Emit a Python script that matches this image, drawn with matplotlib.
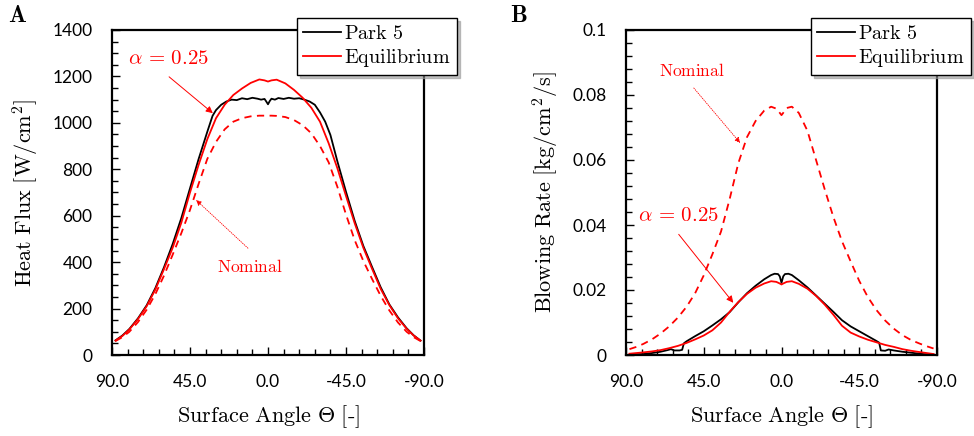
import numpy as np
import matplotlib
matplotlib.use("Agg")
import matplotlib.pyplot as plt
from matplotlib.ticker import MultipleLocator

plt.rcParams['mathtext.fontset'] = 'cm'
plt.rcParams['axes.unicode_minus'] = False

# ---------------- data: panel A (heat flux, W/cm2) ----------------
theta_a = [88, 84, 80, 75, 70, 65, 60, 55, 50, 45, 40, 35, 30, 25, 20, 15, 10, 5, 2, 0,
           -2, -5, -10, -15, -20, -25, -30, -35, -40, -45, -50, -55, -60, -65, -70, -75, -80, -84, -88]
equil_a = [62, 82, 110, 155, 210, 282, 370, 462, 570, 700, 820, 930, 1020, 1078, 1120, 1148, 1172, 1187, 1183, 1178,
           1183, 1186, 1170, 1142, 1108, 1065, 1005, 912, 805, 685, 568, 462, 372, 285, 215, 158, 113, 84, 62]
nominal_a = [60, 77, 100, 142, 195, 262, 342, 432, 525, 625, 738, 845, 918, 972, 1005, 1020, 1028, 1031, 1031, 1031,
             1031, 1030, 1025, 1012, 990, 955, 900, 830, 725, 605, 495, 405, 328, 255, 192, 140, 100, 77, 60]

theta_park_a = [88, 84, 80, 75, 70, 65, 60, 55, 50, 45, 40, 35, 32, 30, 27, 24, 21, 18, 15, 12,
                9, 6, 4, 2, 1, 0, -1, -2, -4, -6, -9, -12, -15, -18, -21, -24, -27, -30, -33, -36,
                -40, -45, -50, -55, -60, -65, -70, -75, -80, -84, -88]
park_a = [63, 84, 112, 158, 214, 288, 378, 478, 590, 718, 845, 962, 1030, 1055, 1078, 1092, 1100, 1098, 1106, 1102,
          1108, 1104, 1100, 1103, 1092, 1080, 1094, 1104, 1100, 1107, 1103, 1108, 1104, 1106, 1100, 1092, 1078, 1045, 1005, 948,
          835, 703, 578, 470, 380, 292, 218, 162, 115, 85, 62]

# ---------------- data: panel B (blowing rate, kg/cm2/s) ----------------
theta_b = [88, 84, 80, 75, 70, 65, 60, 55, 50, 45, 40, 35, 30, 25, 20, 15, 10, 6, 3, 1, 0,
           -1, -3, -6, -10, -15, -20, -25, -30, -35, -40, -45, -50, -55, -60, -65, -70, -75, -80, -84, -88]
nominal_b = [0.0018, 0.0025, 0.0034, 0.0048, 0.0066, 0.0088, 0.0115, 0.0148, 0.0190, 0.0245,
             0.0310, 0.0380, 0.0480, 0.0590, 0.0670, 0.0720, 0.0752, 0.0764, 0.0758, 0.0745, 0.0738,
             0.0745, 0.0760, 0.0764, 0.0745, 0.0690, 0.0600, 0.0510, 0.0425, 0.0350, 0.0288,
             0.0228, 0.0178, 0.0138, 0.0106, 0.0081, 0.0061, 0.0046, 0.0035, 0.0027, 0.0020]
equil_b = [0.0004, 0.0006, 0.0008, 0.0011, 0.0015, 0.0021, 0.0028, 0.0037, 0.0048, 0.0060,
           0.0076, 0.0100, 0.0133, 0.0163, 0.0188, 0.0207, 0.0220, 0.0227, 0.0225, 0.0220, 0.0217,
           0.0220, 0.0225, 0.0227, 0.0219, 0.0204, 0.0182, 0.0155, 0.0124, 0.0090, 0.0069,
           0.0057, 0.0047, 0.0039, 0.0031, 0.0025, 0.0018, 0.0013, 0.0009, 0.0006, 0.0003]

theta_park_b = [88, 80, 75, 70, 66, 64, 62, 59, 57.5, 56.5, 55, 50, 45, 40, 35, 30, 27, 25, 20, 15,
                10, 6, 4, 2, 1, 0, -1, -2, -4, -6, -10, -15, -20, -25, -30, -35, -40, -45, -50, -55,
                -56.5, -57.5, -60, -62, -65, -70, -75, -80, -84, -88]
park_b = [0.0001, 0.0003, 0.0006, 0.0010, 0.0015, 0.0018, 0.0014, 0.0014, 0.0016, 0.0036,
          0.0042, 0.0058, 0.0073, 0.0091, 0.0110, 0.0132, 0.0150, 0.0162, 0.0190, 0.0213,
          0.0233, 0.0246, 0.0250, 0.0249, 0.0242, 0.0222, 0.0242, 0.0249, 0.0250, 0.0246,
          0.0230, 0.0208, 0.0183, 0.0158, 0.0133, 0.0107, 0.0088, 0.0073, 0.0058, 0.0043,
          0.0038, 0.0014, 0.0013, 0.0017, 0.0014, 0.0010, 0.0007, 0.0004, 0.0002, 0.0001]

xticks = [90, 45, 0, -45, -90]
xticklabels = ['90.0', '45.0', '0.0', '-45.0', '-90.0']
yticks_a = [0, 200, 400, 600, 800, 1000, 1200, 1400]
yticklabels_a = ['0', '200', '400', '600', '800', '1000', '1200', '1400']
yticks_b = [0, 0.02, 0.04, 0.06, 0.08, 0.1]
yticklabels_b = ['0', '0.02', '0.04', '0.06', '0.08', '0.1']

RED = '#ff0000'
TICKFONT = 'Lato'

fig = plt.figure(figsize=(9.74, 4.36), dpi=100)
ax_a = fig.add_axes([112/974, 1-355/436, 312/974, 325/436])
ax_b = fig.add_axes([626/974, 1-355/436, 311/974, 325/436])


def style_axis(ax, yticks, yticklabels, ymax, yminor, ylabel):
    ax.set_xlim(90, -90)
    ax.set_ylim(0, ymax)
    ax.set_xticks(xticks)
    ax.set_xticklabels(xticklabels)
    ax.set_yticks(yticks)
    ax.set_yticklabels(yticklabels)
    ax.xaxis.set_minor_locator(MultipleLocator(9))
    ax.yaxis.set_minor_locator(MultipleLocator(yminor))
    ax.tick_params(which='both', direction='in', top=False, right=False, width=1.0)
    ax.tick_params(which='major', length=6, pad=14, labelsize=12.5)
    ax.tick_params(which='minor', length=4)
    for lab in ax.get_xticklabels() + ax.get_yticklabels():
        lab.set_family(TICKFONT)
    for sp in ax.spines.values():
        sp.set_linewidth(1.6)
    ax.set_xlabel(r'$\mathrm{Surface\ Angle\ }\Theta\mathrm{\ [\text{-}]}$', fontsize=16, labelpad=9)
    ax.set_ylabel(ylabel, fontsize=16, labelpad=8)


# ---- panel A ----
ax_a.plot(theta_park_a, park_a, color='black', lw=1.3, label=r'$\mathrm{Park\ 5}$')
ax_a.plot(theta_a, equil_a, color=RED, lw=1.3, label=r'$\mathrm{Equilibrium}$')
ax_a.plot(theta_a, nominal_a, color=RED, lw=1.3, ls=(0, (4, 3)))
style_axis(ax_a, yticks_a, yticklabels_a, 1400, 50, r'$\mathrm{Heat\ Flux\ [W/cm^2]}$')

ax_a.annotate('', xy=(30.6, 1034), xytext=(58.3, 1206),
              arrowprops=dict(arrowstyle='-|>', color=RED, lw=0.7, mutation_scale=10))
ax_a.text(80.8, 1279, r'$\alpha\,=\,0.25$', color=RED, fontsize=15, ha='left', va='center')
ax_a.annotate('', xy=(42.7, 676), xytext=(10.4, 452),
              arrowprops=dict(arrowstyle='-|>', color=RED, lw=0.6, ls=':', mutation_scale=8))
ax_a.text(29.4, 379, r'$\mathrm{Nominal}$', color=RED, fontsize=12.5, ha='left', va='center')

# ---- panel B ----
ax_b.plot(theta_park_b, park_b, color='black', lw=1.3, label=r'$\mathrm{Park\ 5}$')
ax_b.plot(theta_b, equil_b, color=RED, lw=1.3, label=r'$\mathrm{Equilibrium}$')
ax_b.plot(theta_b, nominal_b, color=RED, lw=1.3, ls=(0, (4, 3)))
style_axis(ax_b, yticks_b, yticklabels_b, 0.1, 0.004, r'$\mathrm{Blowing\ Rate\ [kg/cm^2/s]}$')

ax_b.annotate('', xy=(26.9, 0.0154), xytext=(60.5, 0.0378),
              arrowprops=dict(arrowstyle='-|>', color=RED, lw=0.7, mutation_scale=10))
ax_b.text(83.1, 0.0431, r'$\alpha\,=\,0.25$', color=RED, fontsize=15, ha='left', va='center')
ax_b.annotate('', xy=(22.9, 0.0646), xytext=(51.8, 0.0828),
              arrowprops=dict(arrowstyle='-|>', color=RED, lw=0.6, ls=':', mutation_scale=8))
ax_b.text(70.9, 0.0874, r'$\mathrm{Nominal}$', color=RED, fontsize=12.5, ha='left', va='center')

# legends (extend past the axes box, with a drop shadow)
for ax, x0 in [(ax_a, 297/974), (ax_b, 811/974)]:
    leg = ax.legend(loc='upper left', bbox_to_anchor=(x0, 1-18/436), bbox_transform=fig.transFigure,
                    fontsize=14.5, frameon=True, fancybox=False, shadow={'color': '0.6', 'alpha': 0.6},
                    handlelength=1.9, handletextpad=0.15, borderpad=0.3, labelspacing=0.2,
                    borderaxespad=0)
    leg.get_frame().set_edgecolor('black')
    leg.get_frame().set_linewidth(1.0)
    leg.set_zorder(10)

fig.text(8/974, 1-15/436, r'$\mathbf{A}$', fontsize=17, ha='left', va='center')
fig.text(510/974, 1-15/436, r'$\mathbf{B}$', fontsize=17, ha='left', va='center')

fig.savefig('out.png', dpi=100)
